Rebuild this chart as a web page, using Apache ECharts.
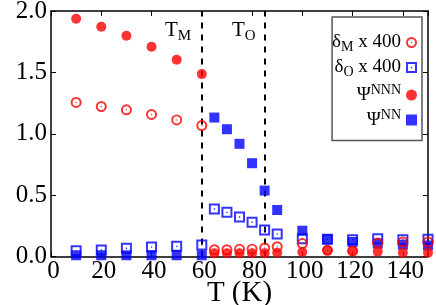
<!DOCTYPE html>
<html><head><meta charset="utf-8">
<script src="https://cdn.jsdelivr.net/npm/echarts@6/dist/echarts.min.js"></script>
<style>html,body{margin:0;padding:0;background:#fff}#c{width:436px;height:305px}</style>
</head><body><div id="c"></div>
<script>
// ---- data ----
const temps      = [10, 20, 30, 40, 50, 60, 65, 70, 75, 80, 85, 90, 100, 110, 120, 130, 140, 150];
const deltaM400  = [1.255, 1.222, 1.195, 1.157, 1.113, 1.067, 0.055, 0.055, 0.06, 0.06, 0.07, 0.08, 0.105, 0.05, 0.045, 0.11, 0.118, 0.118];
const deltaO400  = [0.046, 0.053, 0.067, 0.077, 0.083, 0.094, 0.387, 0.360, 0.322, 0.279, 0.216, 0.183, 0.145, 0.14, 0.137, 0.145, 0.137, 0.14];
const psiNNN     = [1.937, 1.872, 1.798, 1.709, 1.603, 1.486, 0.026, 0.026, 0.026, 0.026, 0.026, 0.03, 0.037, 0.05, 0.043, 0.04, 0.03, 0.03];
const psiNN      = [0.01, 0.01, 0.01, 0.01, 0.01, 0.01, 1.132, 1.037, 0.918, 0.760, 0.537, 0.379, 0.21, 0.14, 0.118, 0.105, 0.096, 0.09];
const transitionTemps  = [60, 85];
const transitionNames  = ['M', 'O'];
const seriesNames = ['dM', 'dO', 'NNN', 'NN'];
const legendLabels = {
  dM:  '{b|δ}{sub|M}{b| x 400}',
  dO:  '{b|δ}{sub|O}{b| x 400}',
  NNN: '{b|Ψ}{sup|NNN}',
  NN:  '{b|Ψ}{sup|NN}'
};

const FONT = 'Liberation Serif';
const pairs = vals => temps.map((t, i) => [t, vals[i]]);

const ringCircle = 'path://M0 -10A10 10 0 1 1 0 10A10 10 0 1 1 0 -10Z' +
  'M0 -6.4A6.4 6.4 0 1 0 0 6.4A6.4 6.4 0 1 0 0 -6.4Z' +
  'M0 -1.3A1.3 1.3 0 1 1 0 1.3A1.3 1.3 0 1 1 0 -1.3Z';
const ringSquare = 'path://M-10 -10L10 -10L10 10L-10 10Z' +
  'M-6.4 -6.4L-6.4 6.4L6.4 6.4L6.4 -6.4Z' +
  'M-1.2 -1.2L1.2 -1.2L1.2 1.2L-1.2 1.2Z';

const richLegend = {
  b:   { fontFamily: FONT, fontSize: 19, color: '#000', lineHeight: 24 },
  sub: { fontFamily: FONT, fontSize: 14, color: '#000', lineHeight: 14, verticalAlign: 'bottom' },
  sup: { fontFamily: FONT, fontSize: 14, color: '#000', lineHeight: 14, verticalAlign: 'top' }
};

const axisCommon = {
  axisLine: { onZero: false, lineStyle: { color: '#000', width: 1.5 } },
  axisTick: { inside: true, length: 5, lineStyle: { color: '#000', width: 1 } },
  splitLine: { show: false }
};

const chart = echarts.init(document.getElementById('c'), null, { renderer: 'canvas' });
chart.setOption({
  animation: false,
  backgroundColor: '#fff',
  grid: { left: 51, right: 8, top: 11, bottom: 48.5, containLabel: false, outerBoundsMode: 'none' },
  xAxis: [
    Object.assign({}, axisCommon, {
      type: 'value', min: 0, max: 150, interval: 20, position: 'bottom',
      axisLabel: { color: '#000', fontFamily: FONT, fontSize: 25, margin: 2, showMaxLabel: false, padding: [0, 0, 0, 5] },
      name: 'T (K)', nameLocation: 'middle', nameGap: 22, nameMoveOverlap: false,
      nameTextStyle: { color: '#000', fontFamily: FONT, fontSize: 29 }
    }),
    Object.assign({}, axisCommon, {
      type: 'value', min: 0, max: 150, interval: 20, position: 'top',
      axisLabel: { show: false }
    })
  ],
  yAxis: [
    Object.assign({}, axisCommon, {
      type: 'value', min: 0, max: 2, interval: 0.5, position: 'left',
      axisLabel: { color: '#000', fontFamily: FONT, fontSize: 25, margin: 4, formatter: v => v.toFixed(1) }
    }),
    Object.assign({}, axisCommon, {
      type: 'value', min: 0, max: 2, interval: 0.5, position: 'right',
      axisLabel: { show: false }
    })
  ],
  legend: {
    orient: 'vertical', right: 14, top: 17, align: 'right',
    itemWidth: 11, itemHeight: 11, itemGap: 3.5,
    padding: [16, 5, 11, 0],
    borderColor: '#555', borderWidth: 1.5,
    data: seriesNames,
    formatter: name => legendLabels[name],
    textStyle: { color: '#000', fontFamily: FONT, fontSize: 19, rich: richLegend }
  },
  graphic: transitionNames.map((n, i) => ({
    type: 'text', left: [165, 232][i], top: 20, z: 10,
    style: {
      text: '{t|T}{s|' + n + '}',
      rich: {
        t: { fontFamily: FONT, fontSize: 21, fill: '#000', lineHeight: 26 },
        s: { fontFamily: FONT, fontSize: 15, fill: '#000', lineHeight: 15, verticalAlign: 'bottom' }
      }
    }
  })),
  series: [
    {
      name: 'dO', type: 'scatter', data: pairs(deltaO400), symbol: ringSquare, symbolSize: 11,
      itemStyle: { color: '#0000ff' }, z: 2,
      markLine: {
        silent: true, symbol: 'none', z: 1, animation: false,
        label: { show: false },
        lineStyle: { color: '#000', type: [6, 6], width: 2 },
        data: transitionTemps.map(t => ({ xAxis: t }))
      }
    },
    { name: 'NN', type: 'scatter', data: pairs(psiNN), symbol: 'rect', symbolSize: 10, itemStyle: { color: '#0000ff' }, z: 3 },
    { name: 'dM', type: 'scatter', data: pairs(deltaM400), symbol: ringCircle, symbolSize: 11, itemStyle: { color: '#ff0000' }, z: 4 },
    { name: 'NNN', type: 'scatter', data: pairs(psiNNN), symbol: 'circle', symbolSize: 10, itemStyle: { color: '#ff0000' }, z: 5 }
  ]
});
</script>
</body></html>
